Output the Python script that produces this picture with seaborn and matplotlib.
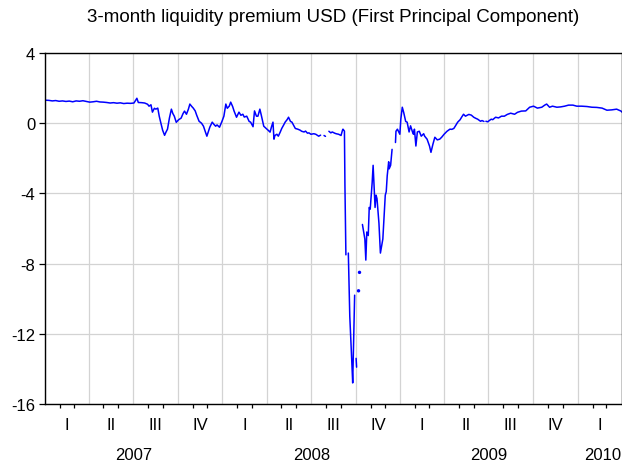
import numpy as np
import pandas as pd
import matplotlib
matplotlib.use("Agg")
import matplotlib.pyplot as plt
import matplotlib.dates as mdates
import matplotlib.transforms as mtransforms
import seaborn as sns

title = "3-month liquidity premium USD (First Principal Component)"

dates_2007 = ["2007-01-02", "2007-01-09", "2007-01-16", "2007-01-23", "2007-01-30", "2007-02-06",
              "2007-02-13", "2007-02-20", "2007-02-27", "2007-03-06", "2007-03-13", "2007-03-20",
              "2007-03-27", "2007-04-03", "2007-04-10", "2007-04-17", "2007-04-24", "2007-05-01",
              "2007-05-08", "2007-05-15", "2007-05-22", "2007-05-29", "2007-06-05", "2007-06-12",
              "2007-06-19", "2007-06-26", "2007-07-03", "2007-07-09", "2007-07-12", "2007-07-19",
              "2007-07-25", "2007-07-31", "2007-08-03", "2007-08-07", "2007-08-10", "2007-08-14",
              "2007-08-17", "2007-08-21", "2007-08-24", "2007-08-27", "2007-08-31", "2007-09-04",
              "2007-09-07", "2007-09-10", "2007-09-14", "2007-09-18", "2007-09-21", "2007-09-24",
              "2007-09-28", "2007-10-03", "2007-10-08", "2007-10-12", "2007-10-15", "2007-10-19",
              "2007-10-23", "2007-10-26", "2007-10-30", "2007-11-02", "2007-11-06", "2007-11-09",
              "2007-11-14", "2007-11-19", "2007-11-23", "2007-11-27", "2007-11-30", "2007-12-04",
              "2007-12-06", "2007-12-11", "2007-12-14", "2007-12-18", "2007-12-21", "2007-12-26",
              "2007-12-31"]
values_2007 = [1.31, 1.30, 1.27, 1.29, 1.25, 1.27,
               1.24, 1.26, 1.22, 1.27, 1.25, 1.28,
               1.24, 1.20, 1.22, 1.25, 1.21, 1.20,
               1.18, 1.15, 1.17, 1.14, 1.16, 1.12,
               1.14, 1.13, 1.15, 1.42, 1.18, 1.17,
               1.15, 1.08, 0.97, 1.05, 0.63, 0.85,
               0.80, 0.86, 0.40, 0.05, -0.40, -0.69,
               -0.50, -0.34, 0.30, 0.80, 0.55, 0.40,
               0.05, 0.20, 0.29, 0.55, 0.69, 0.51,
               0.80, 1.09, 0.95, 0.86, 0.70, 0.46,
               0.11, 0.00, -0.17, -0.50, -0.74, -0.40,
               -0.23, 0.06, -0.05, -0.17, -0.10, -0.23,
               0.10]

dates_2008 = ["2008-01-04", "2008-01-08", "2008-01-11", "2008-01-15", "2008-01-18", "2008-01-22",
              "2008-01-25", "2008-01-30", "2008-02-04", "2008-02-08", "2008-02-12", "2008-02-15",
              "2008-02-20", "2008-02-25", "2008-02-28", "2008-03-04", "2008-03-07", "2008-03-11",
              "2008-03-14", "2008-03-18", "2008-03-21", "2008-03-26", "2008-03-31", "2008-04-04",
              "2008-04-08", "2008-04-11", "2008-04-14", "2008-04-16", "2008-04-18", "2008-04-22",
              "2008-04-25", "2008-04-29", "2008-05-02", "2008-05-06", "2008-05-09", "2008-05-13",
              "2008-05-16", "2008-05-20", "2008-05-23", "2008-05-28", "2008-05-30", "2008-06-04",
              "2008-06-09", "2008-06-12", "2008-06-17", "2008-06-20", "2008-06-24", "2008-06-27",
              "2008-07-01", "2008-07-07", "2008-07-11", "2008-07-17", "2008-07-21", "2008-07-24",
              "2008-07-28", "2008-07-31", "2008-08-04", "2008-08-07", "2008-08-11", "2008-08-14",
              "2008-08-19", "2008-08-22", "2008-08-27", "2008-09-01", "2008-09-04", "2008-09-05",
              "2008-09-08", "2008-09-09", "2008-09-11", "2008-09-12", "2008-09-16", "2008-09-19",
              "2008-09-23", "2008-09-25", "2008-09-29", "2008-09-30", "2008-10-02", "2008-10-03",
              "2008-10-06", "2008-10-07", "2008-10-08", "2008-10-09", "2008-10-10", "2008-10-15",
              "2008-10-20", "2008-10-22", "2008-10-24", "2008-10-27", "2008-10-29", "2008-10-31",
              "2008-11-04", "2008-11-06", "2008-11-10", "2008-11-12", "2008-11-14", "2008-11-18",
              "2008-11-21", "2008-11-26", "2008-12-01", "2008-12-03", "2008-12-05", "2008-12-08",
              "2008-12-09", "2008-12-12", "2008-12-15", "2008-12-17", "2008-12-22", "2008-12-23",
              "2008-12-26", "2008-12-31"]
values_2008 = [0.40, 1.09, 0.85, 0.97, 1.20, 0.95,
               0.69, 0.34, 0.63, 0.45, 0.51, 0.35,
               0.40, 0.10, 0.06, -0.20, 0.70, 0.40,
               0.40, 0.80, 0.45, -0.17, -0.30, -0.40,
               -0.51, -0.20, 0.06, -0.91, -0.70, -0.63,
               -0.74, -0.50, -0.30, -0.10, 0.06, 0.20,
               0.34, 0.10, 0.06, -0.20, -0.30, -0.34,
               -0.40, -0.46, -0.50, -0.45, -0.57, -0.55,
               -0.63, -0.60, -0.63, -0.74, -0.68, np.nan,
               -0.70, -0.75, np.nan, -0.46, -0.55, -0.50,
               -0.57, -0.60, -0.63, -0.70, -0.40, -0.34,
               -0.45, -3.50, -7.50, np.nan, -7.40, -11.0,
               -13.5, -14.8, -9.8, np.nan, -13.4, -13.9,
               np.nan, -9.55, np.nan, -8.50, np.nan, -5.77,
               -6.60, -7.80, -6.20, -6.40, -4.80, -4.90,
               -3.40, -2.40, -4.80, -4.10, -4.30, -5.70,
               -7.40, -6.60, -4.10, -3.90, -3.00, -2.20,
               -2.60, -2.40, -1.49, np.nan, -1.10, -0.46,
               -0.34, -0.63]

dates_2009 = ["2009-01-02", "2009-01-05", "2009-01-08", "2009-01-12", "2009-01-15", "2009-01-19",
              "2009-01-22", "2009-01-26", "2009-01-28", "2009-01-30", "2009-02-02", "2009-02-05",
              "2009-02-09", "2009-02-13", "2009-02-18", "2009-02-20", "2009-02-25", "2009-03-02",
              "2009-03-05", "2009-03-09", "2009-03-13", "2009-03-18", "2009-03-23", "2009-03-27",
              "2009-04-01", "2009-04-07", "2009-04-13", "2009-04-17", "2009-04-21", "2009-04-24",
              "2009-04-29", "2009-05-04", "2009-05-07", "2009-05-11", "2009-05-15", "2009-05-19",
              "2009-05-22", "2009-05-27", "2009-06-01", "2009-06-05", "2009-06-09", "2009-06-15",
              "2009-06-18", "2009-06-22", "2009-06-24", "2009-06-26", "2009-06-30", "2009-07-03",
              "2009-07-07", "2009-07-10", "2009-07-16", "2009-07-22", "2009-07-28", "2009-08-03",
              "2009-08-09", "2009-08-16", "2009-08-24", "2009-08-30", "2009-09-07", "2009-09-16",
              "2009-09-24", "2009-10-02", "2009-10-10", "2009-10-19", "2009-10-25", "2009-10-29",
              "2009-11-04", "2009-11-10", "2009-11-19", "2009-11-27", "2009-12-05", "2009-12-13",
              "2009-12-22", "2009-12-30"]
values_2009 = [0.23, 0.91, 0.60, 0.10, 0.06, -0.50,
               -0.15, -0.50, -0.63, -0.34, -1.30, -0.50,
               -0.46, -0.74, -0.60, -0.74, -0.91, -1.30,
               -1.66, -1.20, -0.80, -0.95, -0.91, -0.80,
               -0.63, -0.46, -0.34, -0.35, -0.30, -0.17,
               0.06, 0.20, 0.34, 0.51, 0.40, 0.46,
               0.50, 0.46, 0.34, 0.28, 0.23, 0.11,
               0.15, 0.10, np.nan, 0.11, 0.08, 0.15,
               0.23, 0.20, 0.34, 0.30, 0.40, 0.40,
               0.50, 0.57, 0.51, 0.62, 0.69, 0.70,
               0.91, 0.97, 0.86, 0.91, 1.03, 1.09,
               0.91, 0.97, 0.91, 0.93, 0.97, 1.03,
               1.03, 0.97]

dates_2010 = ["2010-01-09", "2010-01-20", "2010-01-30", "2010-02-09", "2010-02-20", "2010-03-02",
              "2010-03-12", "2010-03-22", "2010-03-31", "2010-04-02"]
values_2010 = [0.97, 0.95, 0.91, 0.90, 0.86, 0.74,
               0.76, 0.80, 0.69, 0.63]

quarter_labels = ["I", "II", "III", "IV"]
years = [2007, 2008, 2009, 2010]
yticks = [4, 0, -4, -8, -12, -16]

# ---------------------------------------------------------------
df = pd.DataFrame({
    "date": pd.to_datetime(dates_2007 + dates_2008 + dates_2009 + dates_2010),
    "value": values_2007 + values_2008 + values_2009 + values_2010,
})
isna = df["value"].isna()
df["seg"] = isna.cumsum()
line_df = df[~isna].copy()
seg_sizes = line_df.groupby("seg")["value"].transform("size")
single = line_df[seg_sizes == 1]

sns.set_style("white")
plt.rcParams["font.family"] = ["Liberation Sans", "DejaVu Sans"]
plt.rcParams["text.color"] = "black"
plt.rcParams["xtick.color"] = "black"
plt.rcParams["ytick.color"] = "black"
plt.rcParams["axes.labelcolor"] = "black"

fig = plt.figure(figsize=(6.22, 4.64), dpi=100)
ax = fig.add_axes([45 / 622, 1 - 405 / 464, 1 - 45 / 622, (405 - 54) / 464])

sns.lineplot(data=line_df, x="date", y="value", units="seg", estimator=None,
             color="#0000ff", lw=1.1, ax=ax, legend=False)
sns.scatterplot(data=single, x="date", y="value", color="#0000ff", s=6,
                edgecolor="none", ax=ax, legend=False)

x0 = pd.Timestamp("2007-01-01")
x1 = pd.Timestamp("2010-04-02")
ax.set_xlim(x0, x1)
ax.set_ylim(-16, 4)
ax.set_yticks(yticks)
ax.set_yticklabels([str(t) for t in yticks], fontsize=12, color="black")

qstarts = pd.date_range("2007-01-01", "2010-04-01", freq="QS")
ax.set_xticks(qstarts)
ax.set_xticklabels([""] * len(qstarts))
ax.xaxis.set_minor_locator(mdates.MonthLocator())
ax.tick_params(axis="x", which="major", direction="out", length=8, width=0.9, color="black")
ax.tick_params(axis="x", which="minor", direction="out", length=3, width=0.9, color="black", bottom=True)
ax.tick_params(axis="y", which="major", direction="out", length=4, width=0.9, color="black", left=True, pad=3)

ax.grid(True, which="major", color="#d3d3d3", lw=0.9)
ax.set_axisbelow(True)
for s in ["left", "top", "bottom", "right"]:
    ax.spines[s].set_color("black")
    ax.spines[s].set_linewidth(1.0)
ax.set_xlabel("")
ax.set_ylabel("")

trans = mtransforms.blended_transform_factory(ax.transData, ax.transAxes)
for i, qs in enumerate(qstarts[:-1]):
    mid = qs + (qstarts[i + 1] - qs) / 2
    ax.text(mdates.date2num(mid), -0.058, quarter_labels[i % 4], transform=trans,
            ha="center", va="center", fontsize=12, color="black", clip_on=False)
for y in years:
    if y < 2010:
        ax.text(mdates.date2num(pd.Timestamp(f"{y}-07-02")), -0.143, str(y), transform=trans,
                ha="center", va="center", fontsize=12, color="black", clip_on=False)
    else:
        ax.text(0.999, -0.143, str(y), transform=ax.transAxes,
                ha="right", va="center", fontsize=12, color="black", clip_on=False)

fig.text((45 + 622) / 2 / 622, 1 - 18 / 464, title, ha="center", va="center",
         fontsize=13.5, color="black")

fig.savefig("out.png", dpi=100)
